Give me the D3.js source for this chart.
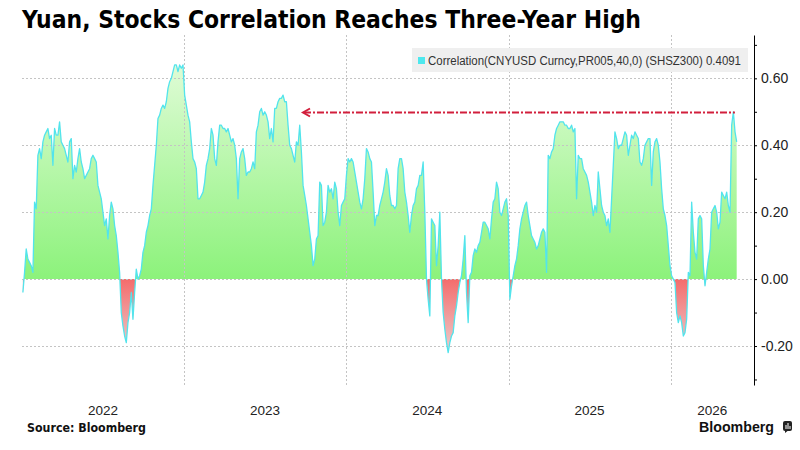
<!DOCTYPE html>
<html><head><meta charset="utf-8">
<script src="https://cdn.jsdelivr.net/npm/d3@7/dist/d3.min.js"></script>
<style>body{margin:0;background:#fff}svg{display:block}</style>
</head><body><svg id="chart" width="800" height="450"></svg>
<script>
// ---------------- DATA ----------------
const title = "Yuan, Stocks Correlation Reaches Three-Year High";
const legendLabel = "Correlation(CNYUSD Curncy,PR005,40,0) (SHSZ300) 0.4091";
const sourceText = "Source: Bloomberg";
const firstDate = "2022-01-03";
const lastDate = "2026-05-30";
const yearLabels = ["2022", "2023", "2024", "2025", "2026"];
const majorTicks = [-0.2, 0, 0.2, 0.4, 0.6];
const minorTicks = [-0.3, -0.1, 0.1, 0.3, 0.5, 0.7];
const arrowLevel = 0.50;
const arrowFrom = "2023-09-26";
const arrowTo = "2026-05-26";

const corrSeg1 = [
 -0.04, 0.02, 0.09, 0.06, 0.05, 0.04, 0.02, 0.23, 0.21, 0.37,
 0.39, 0.36, 0.41, 0.43, 0.44, 0.45, 0.42, 0.43, 0.34, 0.45,
 0.43, 0.43, 0.47, 0.41, 0.40, 0.39, 0.37, 0.35, 0.41, 0.42,
 0.30, 0.34, 0.32, 0.36, 0.39, 0.35, 0.33, 0.30, 0.31, 0.32,
 0.33, 0.36, 0.37, 0.36, 0.35, 0.28, 0.26, 0.24, 0.20, 0.16,
 0.18, 0.12, 0.19, 0.23, 0.21, 0.16, 0.13, 0.08, 0.02, -0.10,
 -0.14, -0.17, -0.19, -0.13, -0.10, -0.04, -0.12, -0.04, 0.03, 0.00,
 0.01, 0.03, 0.08, 0.10, 0.14, 0.16, 0.19, 0.21, 0.28, 0.34,
 0.40, 0.48, 0.49, 0.51, 0.52, 0.51, 0.53, 0.57, 0.59, 0.60,
 0.62, 0.64, 0.64, 0.62, 0.64, 0.63, 0.64, 0.55, 0.52, 0.49,
 0.47, 0.41, 0.36, 0.35, 0.33, 0.24
];
const corrSeg2 = [
 0.24, 0.25, 0.26, 0.29, 0.34, 0.36, 0.39, 0.45, 0.43, 0.36,
 0.34, 0.41, 0.46, 0.46, 0.45, 0.45, 0.44, 0.45, 0.43, 0.41,
 0.42, 0.40, 0.36, 0.24, 0.36, 0.38, 0.39, 0.36, 0.31, 0.32,
 0.32, 0.33, 0.35, 0.33, 0.44, 0.46, 0.50, 0.51, 0.49, 0.50,
 0.49, 0.47, 0.42, 0.45, 0.41, 0.51, 0.51, 0.53, 0.54, 0.54,
 0.55, 0.53, 0.53, 0.46, 0.40, 0.39, 0.37, 0.35, 0.41, 0.40,
 0.46, 0.38, 0.28, 0.25, 0.22, 0.18, 0.14, 0.10, 0.04, 0.06,
 0.12, 0.13, 0.29, 0.28, 0.16, 0.17, 0.20, 0.28, 0.26, 0.27,
 0.24, 0.29, 0.27, 0.20, 0.16, 0.22, 0.23, 0.24, 0.31, 0.36,
 0.35, 0.36, 0.35, 0.32, 0.29, 0.26, 0.23, 0.21, 0.24, 0.30,
 0.39, 0.38, 0.36, 0.35, 0.26, 0.16, 0.19, 0.19, 0.22, 0.24,
 0.26, 0.29, 0.33, 0.31, 0.25, 0.22, 0.22, 0.21, 0.22, 0.33
];
const corrSeg3 = [
 0.36, 0.36, 0.33, 0.26, 0.23, 0.19, 0.14, 0.19, 0.22, 0.23,
 0.27, 0.28, 0.31, 0.31, 0.35, 0.20, 0.00, -0.06, -0.11, 0.18,
 0.17, 0.16, 0.04, 0.10, 0.20, 0.00, -0.10, -0.15, -0.19, -0.22,
 -0.19, -0.17, -0.16, -0.11, -0.08, -0.04, -0.01, 0.01, 0.06, 0.13,
 -0.04, -0.13, 0.01, 0.02, 0.07, 0.09, 0.08, 0.10, 0.11, 0.14,
 0.17, 0.17, 0.16, 0.15, 0.12, 0.18, 0.23, 0.24, 0.29, 0.27,
 0.20, 0.19, 0.21, 0.23, 0.24, 0.19, -0.06, -0.02, 0.01, 0.04,
 0.06, 0.10, 0.15, 0.18, 0.20, 0.22, 0.23, 0.19, 0.16, 0.13,
 0.12, 0.11, 0.09, 0.10, 0.12, 0.14, 0.15, 0.14, 0.02, 0.37,
 0.36, 0.38, 0.39, 0.43, 0.45, 0.46, 0.47, 0.47, 0.47, 0.46,
 0.46, 0.45, 0.45, 0.46, 0.44, 0.45, 0.24, 0.37, 0.36, 0.36,
 0.33, 0.32, 0.31, 0.29, 0.26, 0.23, 0.19, 0.22, 0.20, 0.32
];
const corrSeg4 = [
 0.27, 0.22, 0.20, 0.19, 0.16, 0.18, 0.14, 0.24, 0.34, 0.44,
 0.42, 0.39, 0.40, 0.40, 0.42, 0.44, 0.43, 0.37, 0.40, 0.43,
 0.42, 0.44, 0.43, 0.42, 0.35, 0.34, 0.36, 0.40, 0.41, 0.42,
 0.42, 0.28, 0.38, 0.41, 0.42, 0.40, 0.35, 0.27, 0.21, 0.19,
 0.16, 0.10, 0.04, 0.01, 0.00, -0.01, -0.10, -0.13, -0.11, -0.13,
 -0.17, -0.16, -0.12, 0.02, 0.01, 0.23, 0.14, 0.08, 0.06, 0.18,
 0.19, 0.18, 0.04, -0.02, 0.02, 0.06, 0.09, 0.20, 0.21, 0.22,
 0.20, 0.15, 0.17, 0.26, 0.25, 0.24, 0.26, 0.22, 0.20, 0.46,
 0.50, 0.44, 0.41
];

// ---------------- CHART ----------------
const values = corrSeg1.concat(corrSeg2, corrSeg3, corrSeg4);
const parse = d3.timeParse("%Y-%m-%d");
const t0 = parse(firstDate), t1 = parse(lastDate);
const stepMs = (t1 - t0) / (values.length - 1);
const data = values.map((v, i) => ({ date: new Date(+t0 + i * stepMs), v }));

const svg = d3.select("#chart");
svg.append("rect").attr("width", 800).attr("height", 450).attr("fill", "#fff");

const plotL = 22, plotR = 754, plotT = 35, plotB = 385;
const domainStart = new Date(2022, 0, 1), domainEnd = new Date(2026, 6, 8);
const x = d3.scaleTime().domain([domainStart, domainEnd]).range([plotL, plotR]);
const y = d3.scaleLinear().domain([-0.3165, 0.7295]).range([plotB, plotT]);

const defs = svg.append("defs");
const pg = defs.append("linearGradient").attr("id", "posGrad")
  .attr("gradientUnits", "userSpaceOnUse")
  .attr("x1", 0).attr("x2", 0).attr("y1", y(0.68)).attr("y2", y(0));
pg.append("stop").attr("offset", "0%").attr("stop-color", "#e4fcdb");
pg.append("stop").attr("offset", "100%").attr("stop-color", "#8cf27b");
const ng = defs.append("linearGradient").attr("id", "negGrad")
  .attr("gradientUnits", "userSpaceOnUse")
  .attr("x1", 0).attr("x2", 0).attr("y1", y(0)).attr("y2", y(-0.24));
ng.append("stop").attr("offset", "0%").attr("stop-color", "#f46c6c");
ng.append("stop").attr("offset", "100%").attr("stop-color", "#ecd6d6");
defs.append("clipPath").attr("id", "clipPos").append("rect")
  .attr("x", 0).attr("y", 0).attr("width", 800).attr("height", y(0));
defs.append("clipPath").attr("id", "clipNeg").append("rect")
  .attr("x", 0).attr("y", y(0)).attr("width", 800).attr("height", 450 - y(0));

// title
svg.append("text").attr("x", 22).attr("y", 28)
  .attr("font-family", "'Liberation Sans Narrow','DejaVu Sans Condensed','Arial Narrow',sans-serif")
  .attr("font-weight", "bold").attr("font-size", 25).attr("fill", "#000")
  .attr("textLength", 619).attr("lengthAdjust", "spacingAndGlyphs")
  .text(title);

// areas
const area = d3.area().x(d => x(d.date)).y0(y(0)).y1(d => y(d.v));
svg.append("path").datum(data).attr("d", area).attr("fill", "url(#posGrad)").attr("clip-path", "url(#clipPos)");
svg.append("path").datum(data).attr("d", area).attr("fill", "url(#negGrad)").attr("clip-path", "url(#clipNeg)");

// gridlines
const grid = svg.append("g").attr("stroke", "#c4c4c4").attr("stroke-width", 1).attr("stroke-dasharray", "2,2");
majorTicks.forEach(t => {
  grid.append("line").attr("x1", plotL).attr("x2", plotR)
    .attr("y1", Math.round(y(t)) + 0.5).attr("y2", Math.round(y(t)) + 0.5);
});
const yearStarts = yearLabels.map(s => new Date(+s, 0, 1));
yearStarts.slice(1).forEach(d => {
  grid.append("line").attr("x1", Math.round(x(d)) + 0.5).attr("x2", Math.round(x(d)) + 0.5)
    .attr("y1", plotT).attr("y2", plotB);
});

// line
const line = d3.line().x(d => x(d.date)).y(d => y(d.v));
svg.append("path").datum(data).attr("d", line).attr("fill", "none")
  .attr("stroke", "#52e4ec").attr("stroke-width", 1.3).attr("stroke-linejoin", "round");

// arrow annotation
const ay = Math.round(y(arrowLevel)) + 0.5;
const ax0 = x(parse(arrowFrom)), ax1 = x(parse(arrowTo));
svg.append("line").attr("x1", ax0 + 1).attr("x2", ax1).attr("y1", ay).attr("y2", ay)
  .attr("stroke", "#d21f3c").attr("stroke-width", 2).attr("stroke-dasharray", "7,2,2,2");
svg.append("path").attr("d", `M${ax0 + 7},${ay - 4}L${ax0},${ay}L${ax0 + 7},${ay + 4}`)
  .attr("fill", "none").attr("stroke", "#d21f3c").attr("stroke-width", 2);

// legend
svg.append("rect").attr("x", 412).attr("y", 48).attr("width", 336).attr("height", 24).attr("fill", "#efefef");
svg.append("rect").attr("x", 418).attr("y", 57).attr("width", 7).attr("height", 7).attr("fill", "#4ee8ee");
svg.append("text").attr("x", 428).attr("y", 65)
  .attr("font-family", "'Liberation Sans',Arial,sans-serif").attr("font-size", 12).attr("fill", "#333")
  .attr("textLength", 313).attr("lengthAdjust", "spacingAndGlyphs")
  .text(legendLabel);

// y axis
const yAxis = d3.axisRight(y)
  .tickValues(minorTicks.concat(majorTicks))
  .tickSize(3).tickSizeOuter(0).tickPadding(4)
  .tickFormat(d => majorTicks.includes(d) ? d.toFixed(2) : "");
const ya = svg.append("g").attr("transform", `translate(${plotR},0)`).call(yAxis);
ya.select(".domain").attr("stroke", "#000");
ya.selectAll(".tick line").attr("stroke", "#000");
ya.selectAll("text").attr("font-family", "'Liberation Sans',Arial,sans-serif")
  .attr("font-size", 14).attr("fill", "#222");

// year labels
yearStarts.forEach((d, i) => {
  const a = Math.max(x(d), plotL);
  const b = Math.min(x(new Date(d.getFullYear() + 1, 0, 1)), plotR);
  svg.append("text").attr("x", (a + b) / 2).attr("y", 415).attr("text-anchor", "middle")
    .attr("font-family", "'Liberation Sans',Arial,sans-serif").attr("font-size", 13.5).attr("fill", "#222")
    .text(yearLabels[i]);
});

// source
svg.append("text").attr("x", 27).attr("y", 432)
  .attr("font-family", "'Liberation Sans Narrow','DejaVu Sans Condensed',sans-serif")
  .attr("font-weight", "bold").attr("font-size", 12.5).attr("fill", "#111")
  .attr("textLength", 119).attr("lengthAdjust", "spacingAndGlyphs")
  .text(sourceText);

// Bloomberg logo
svg.append("text").attr("x", 699).attr("y", 432)
  .attr("font-family", "'Liberation Sans',Arial,sans-serif")
  .attr("font-weight", "bold").attr("font-size", 15).attr("fill", "#111")
  .attr("textLength", 75).attr("lengthAdjust", "spacingAndGlyphs")
  .text("Bloomberg");
const icon = svg.append("g").attr("transform", "translate(783,421)");
icon.append("rect").attr("width", 9).attr("height", 10).attr("rx", 2).attr("fill", "#222");
icon.append("path").attr("d", "M2,10 L2,12 L4.5,10 Z").attr("fill", "#222");
icon.append("rect").attr("x", 2.5).attr("y", 4).attr("width", 1).attr("height", 4).attr("fill", "#fff");
icon.append("rect").attr("x", 4.5).attr("y", 2).attr("width", 1).attr("height", 6).attr("fill", "#fff");
icon.append("rect").attr("x", 6.5).attr("y", 5).attr("width", 1).attr("height", 3).attr("fill", "#fff");
</script>
</body></html>
